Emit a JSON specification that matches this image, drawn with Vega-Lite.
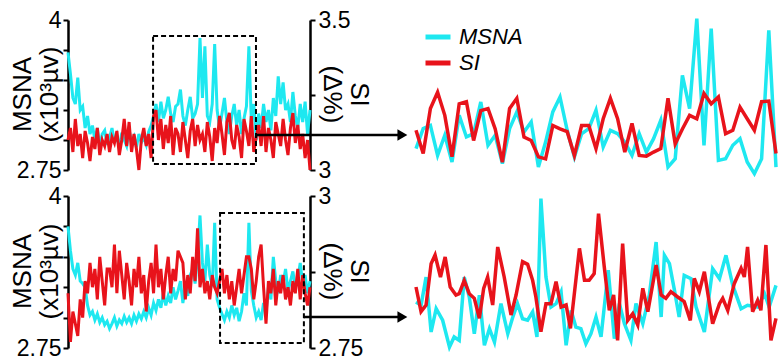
{
"$schema": "https://vega.github.io/schema/vega-lite/v6.json",
"background": "white",
"padding": {"left": 8, "top": 9, "right": 0, "bottom": 0},
"config": {
  "view": {"stroke": null},
  "font": "Liberation Sans",
  "axis": {"domainColor": "black", "domainWidth": 2.5, "tickColor": "black", "tickWidth": 2, "tickSize": 5, "labelFont": "Liberation Sans", "labelFontSize": 23, "labelColor": "black", "labelPadding": 2, "titleFont": "Liberation Sans", "titleFontSize": 26, "titleFontWeight": "normal", "titleColor": "black", "grid": false, "labelFlush": false, "labelOverlap": false}
},
"datasets": {
  "tl": [
{"t":0,"m":3.73,"s":3.10},{"t":1,"m":3.55,"s":3.14},{"t":2,"m":3.35,"s":3.06},{"t":3,"m":3.30,"s":3.17},{"t":4,"m":3.52,"s":3.08},{"t":5,"m":3.25,"s":3.12},{"t":6,"m":3.28,"s":3.04},{"t":7,"m":3.10,"s":3.13},{"t":8,"m":3.20,"s":3.09},{"t":9,"m":3.05,"s":3.03},
{"t":10,"m":3.12,"s":3.11},{"t":11,"m":3.00,"s":3.07},{"t":12,"m":3.10,"s":3.14},{"t":13,"m":2.95,"s":3.05},{"t":14,"m":3.05,"s":3.10},{"t":15,"m":3.08,"s":3.08},{"t":16,"m":2.96,"s":3.12},{"t":17,"m":3.02,"s":3.06},{"t":18,"m":3.10,"s":3.11},{"t":19,"m":2.98,"s":3.09},
{"t":20,"m":3.04,"s":3.13},{"t":21,"m":2.93,"s":3.05},{"t":22,"m":3.06,"s":3.10},{"t":23,"m":3.00,"s":3.17},{"t":24,"m":2.95,"s":3.08},{"t":25,"m":3.08,"s":3.16},{"t":26,"m":2.99,"s":3.06},{"t":27,"m":3.03,"s":3.12},{"t":28,"m":2.94,"s":3.07},{"t":29,"m":3.05,"s":3.00},
{"t":30,"m":2.98,"s":3.10},{"t":31,"m":3.02,"s":3.14},{"t":32,"m":2.96,"s":3.08},{"t":33,"m":3.07,"s":3.12},{"t":34,"m":3.12,"s":3.04},{"t":35,"m":3.20,"s":3.18},{"t":36,"m":3.30,"s":3.20},{"t":37,"m":3.15,"s":3.10},{"t":38,"m":3.32,"s":3.17},{"t":39,"m":3.18,"s":3.07},
{"t":40,"m":3.25,"s":3.15},{"t":41,"m":3.36,"s":3.09},{"t":42,"m":3.22,"s":3.18},{"t":43,"m":3.15,"s":3.05},{"t":44,"m":3.28,"s":3.14},{"t":45,"m":3.30,"s":3.12},{"t":46,"m":3.42,"s":3.06},{"t":47,"m":3.20,"s":3.16},{"t":48,"m":3.12,"s":3.10},{"t":49,"m":3.25,"s":3.04},
{"t":50,"m":3.36,"s":3.13},{"t":51,"m":3.18,"s":3.17},{"t":52,"m":3.22,"s":3.08},{"t":53,"m":3.30,"s":3.15},{"t":54,"m":3.85,"s":3.10},{"t":55,"m":3.35,"s":3.12},{"t":56,"m":3.78,"s":3.06},{"t":57,"m":3.20,"s":3.16},{"t":58,"m":3.15,"s":3.11},{"t":59,"m":3.30,"s":3.03},
{"t":60,"m":3.80,"s":3.14},{"t":61,"m":3.25,"s":3.09},{"t":62,"m":3.10,"s":3.18},{"t":63,"m":3.22,"s":3.12},{"t":64,"m":3.35,"s":3.05},{"t":65,"m":3.15,"s":3.16},{"t":66,"m":3.05,"s":3.19},{"t":67,"m":3.20,"s":3.10},{"t":68,"m":3.30,"s":3.07},{"t":69,"m":3.12,"s":3.15},
{"t":70,"m":3.25,"s":3.11},{"t":71,"m":3.05,"s":3.04},{"t":72,"m":3.18,"s":3.17},{"t":73,"m":3.28,"s":3.13},{"t":74,"m":3.78,"s":3.08},{"t":75,"m":3.15,"s":3.18},{"t":76,"m":3.30,"s":3.06},{"t":77,"m":3.00,"s":3.11},{"t":78,"m":3.22,"s":3.15},{"t":79,"m":3.10,"s":3.08},
{"t":80,"m":3.30,"s":3.18},{"t":81,"m":3.15,"s":3.06},{"t":82,"m":3.25,"s":3.14},{"t":83,"m":3.08,"s":3.10},{"t":84,"m":3.35,"s":3.04},{"t":85,"m":3.20,"s":3.16},{"t":86,"m":3.53,"s":3.12},{"t":87,"m":3.30,"s":3.08},{"t":88,"m":3.48,"s":3.17},{"t":89,"m":3.25,"s":3.10},
{"t":90,"m":3.30,"s":3.05},{"t":91,"m":3.15,"s":3.14},{"t":92,"m":3.40,"s":3.19},{"t":93,"m":3.20,"s":3.09},{"t":94,"m":3.10,"s":3.15},{"t":95,"m":3.30,"s":3.07},{"t":96,"m":3.15,"s":3.12},{"t":97,"m":3.32,"s":3.04},{"t":98,"m":3.05,"s":3.10},{"t":99,"m":3.25,"s":3.00}
  ],
  "bl": [
{"t":0,"m":3.75,"s":2.84},{"t":1,"m":3.55,"s":2.76},{"t":2,"m":3.40,"s":2.81},{"t":3,"m":3.35,"s":2.79},{"t":4,"m":3.45,"s":2.77},{"t":5,"m":3.30,"s":2.83},{"t":6,"m":3.28,"s":2.80},{"t":7,"m":3.25,"s":2.86},{"t":8,"m":3.10,"s":2.84},{"t":9,"m":3.02,"s":2.89},
{"t":10,"m":3.05,"s":2.85},{"t":11,"m":2.98,"s":2.88},{"t":12,"m":3.03,"s":2.83},{"t":13,"m":2.96,"s":2.90},{"t":14,"m":3.00,"s":2.86},{"t":15,"m":2.94,"s":2.82},{"t":16,"m":2.97,"s":2.88},{"t":17,"m":2.91,"s":2.88},{"t":18,"m":2.95,"s":2.85},{"t":19,"m":3.00,"s":2.92},
{"t":20,"m":2.93,"s":2.84},{"t":21,"m":2.98,"s":2.91},{"t":22,"m":2.95,"s":2.87},{"t":23,"m":3.01,"s":2.83},{"t":24,"m":2.96,"s":2.89},{"t":25,"m":3.00,"s":2.86},{"t":26,"m":2.95,"s":2.82},{"t":27,"m":3.02,"s":2.88},{"t":28,"m":2.97,"s":2.85},{"t":29,"m":3.03,"s":2.90},
{"t":30,"m":2.99,"s":2.84},{"t":31,"m":3.05,"s":2.87},{"t":32,"m":3.00,"s":2.81},{"t":33,"m":3.08,"s":2.86},{"t":34,"m":3.02,"s":2.89},{"t":35,"m":3.12,"s":2.84},{"t":36,"m":3.06,"s":2.92},{"t":37,"m":3.15,"s":2.85},{"t":38,"m":3.08,"s":2.88},{"t":39,"m":3.20,"s":2.83},
{"t":40,"m":3.10,"s":2.87},{"t":41,"m":3.18,"s":2.90},{"t":42,"m":3.12,"s":2.84},{"t":43,"m":3.25,"s":2.88},{"t":44,"m":3.15,"s":2.86},{"t":45,"m":3.22,"s":2.91},{"t":46,"m":3.30,"s":2.90},{"t":47,"m":3.12,"s":2.89},{"t":48,"m":3.25,"s":2.83},{"t":49,"m":3.18,"s":2.87},
{"t":50,"m":3.35,"s":2.84},{"t":51,"m":3.40,"s":2.90},{"t":52,"m":3.28,"s":2.86},{"t":53,"m":3.50,"s":2.947},{"t":54,"m":3.84,"s":2.85},{"t":55,"m":3.45,"s":2.88},{"t":56,"m":3.30,"s":2.84},{"t":57,"m":3.60,"s":2.86},{"t":58,"m":3.35,"s":2.83},{"t":59,"m":3.25,"s":2.87},
{"t":60,"m":3.78,"s":2.85},{"t":61,"m":3.15,"s":2.84},{"t":62,"m":3.08,"s":2.86},{"t":63,"m":3.03,"s":2.88},{"t":64,"m":2.98,"s":2.84},{"t":65,"m":3.05,"s":2.87},{"t":66,"m":3.00,"s":2.83},{"t":67,"m":3.10,"s":2.86},{"t":68,"m":3.02,"s":2.82},{"t":69,"m":3.08,"s":2.85},
{"t":70,"m":2.97,"s":2.88},{"t":71,"m":3.05,"s":2.84},{"t":72,"m":3.20,"s":2.87},{"t":73,"m":3.10,"s":2.90},{"t":74,"m":3.78,"s":2.90},{"t":75,"m":3.22,"s":2.88},{"t":76,"m":3.10,"s":2.83},{"t":77,"m":3.00,"s":2.86},{"t":78,"m":3.05,"s":2.90},{"t":79,"m":2.98,"s":2.92},
{"t":80,"m":3.12,"s":2.85},{"t":81,"m":3.04,"s":2.79},{"t":82,"m":3.25,"s":2.86},{"t":83,"m":3.15,"s":2.84},{"t":84,"m":3.50,"s":2.88},{"t":85,"m":3.30,"s":2.82},{"t":86,"m":3.20,"s":2.86},{"t":87,"m":3.35,"s":2.84},{"t":88,"m":3.28,"s":2.87},{"t":89,"m":3.40,"s":2.83},
{"t":90,"m":3.22,"s":2.85},{"t":91,"m":3.30,"s":2.82},{"t":92,"m":3.38,"s":2.86},{"t":93,"m":3.25,"s":2.84},{"t":94,"m":3.32,"s":2.88},{"t":95,"m":3.45,"s":2.83},{"t":96,"m":3.28,"s":2.87},{"t":97,"m":3.35,"s":2.84},{"t":98,"m":3.20,"s":2.82},{"t":99,"m":3.30,"s":2.85}
  ],
  "tr": [
{"t":0,"m":3.096,"s":3.076},{"t":1,"m":3.214,"s":3.042},{"t":2,"m":3.233,"s":3.108},{"t":3,"m":3.057,"s":3.132},{"t":4,"m":3.175,"s":3.098},{"t":5,"m":3.018,"s":3.037},{"t":6,"m":3.292,"s":3.115},{"t":7,"m":3.165,"s":3.118},{"t":8,"m":3.184,"s":3.061},{"t":9,"m":3.371,"s":3.105},
{"t":10,"m":3.116,"s":3.108},{"t":11,"m":3.175,"s":3.078},{"t":12,"m":3.008,"s":3.029},{"t":13,"m":3.214,"s":3.108},{"t":14,"m":3.312,"s":3.123},{"t":15,"m":3.194,"s":3.066},{"t":16,"m":3.253,"s":3.061},{"t":17,"m":2.988,"s":3.037},{"t":18,"m":3.135,"s":3.034},{"t":19,"m":3.312,"s":3.083},
{"t":20,"m":3.400,"s":3.078},{"t":21,"m":3.204,"s":3.074},{"t":22,"m":3.047,"s":3.039},{"t":23,"m":3.184,"s":3.083},{"t":24,"m":3.214,"s":3.083},{"t":25,"m":3.322,"s":3.049},{"t":26,"m":3.106,"s":3.093},{"t":27,"m":3.204,"s":3.123},{"t":28,"m":3.184,"s":3.093},{"t":29,"m":3.135,"s":3.044},
{"t":30,"m":3.057,"s":3.086},{"t":31,"m":3.184,"s":3.039},{"t":32,"m":3.076,"s":3.038},{"t":33,"m":3.155,"s":3.044},{"t":34,"m":3.263,"s":3.049},{"t":35,"m":2.988,"s":3.123},{"t":36,"m":3.037,"s":3.056},{"t":37,"m":3.527,"s":3.078},{"t":38,"m":3.331,"s":3.098},{"t":39,"m":3.861,"s":3.093},
{"t":40,"m":3.116,"s":3.130},{"t":41,"m":3.802,"s":3.115},{"t":42,"m":3.027,"s":3.125},{"t":43,"m":3.037,"s":3.071},{"t":44,"m":3.116,"s":3.076},{"t":45,"m":3.155,"s":3.110},{"t":46,"m":3.018,"s":3.093},{"t":47,"m":2.949,"s":3.076},{"t":48,"m":3.037,"s":3.118},{"t":49,"m":3.792,"s":3.119},
{"t":50,"m":2.988,"s":3.042}
  ],
  "brm": [
{"t":0,"m":3.223},{"t":1.4,"m":3.204},{"t":2.8,"m":3.370},{"t":4.2,"m":3.047},{"t":5.6,"m":3.184},{"t":7.4,"m":3.116},{"t":9.3,"m":2.959},{"t":10.6,"m":3.018},{"t":12.0,"m":2.998},{"t":13.4,"m":3.370},
{"t":14.8,"m":3.253},{"t":16.2,"m":3.037},{"t":17.6,"m":3.263},{"t":19.0,"m":2.969},{"t":20.4,"m":3.067},{"t":21.8,"m":2.988},{"t":23.6,"m":3.214},{"t":25.5,"m":3.037},{"t":26.9,"m":3.135},{"t":28.2,"m":3.214},
{"t":29.6,"m":3.125},{"t":31.0,"m":3.116},{"t":32.4,"m":3.165},{"t":33.6,"m":3.018},{"t":34.7,"m":3.831},{"t":36.1,"m":3.370},{"t":37.5,"m":3.194},{"t":38.9,"m":3.214},{"t":40.3,"m":3.282},{"t":41.7,"m":2.969},
{"t":43.1,"m":3.174},{"t":44.4,"m":3.076},{"t":45.8,"m":3.067},{"t":47.2,"m":2.978},{"t":48.6,"m":3.037},{"t":50.0,"m":3.135},{"t":51.4,"m":3.018},{"t":53.4,"m":3.410},{"t":55.1,"m":3.008},{"t":56.5,"m":3.214},
{"t":57.9,"m":3.096},{"t":59.7,"m":2.998},{"t":61.1,"m":3.214},{"t":63.0,"m":3.096},{"t":64.8,"m":3.263},{"t":66.7,"m":3.576},{"t":68.1,"m":3.135},{"t":69.0,"m":3.498},{"t":70.4,"m":3.449},{"t":71.8,"m":3.292},
{"t":73.1,"m":3.135},{"t":74.5,"m":3.380},{"t":76.4,"m":3.361},{"t":77.8,"m":3.194},{"t":80.1,"m":3.047},{"t":82.4,"m":3.419},{"t":84.3,"m":3.361},{"t":86.1,"m":3.498},{"t":88.0,"m":3.321},{"t":90.3,"m":3.184},
{"t":92.1,"m":3.204},{"t":94.9,"m":3.194},{"t":96.8,"m":3.272},{"t":98.1,"m":3.194},{"t":100,"m":3.321}
  ],
  "brs": [
{"t":0,"s":2.855},{"t":1.4,"s":2.818},{"t":2.8,"s":2.828},{"t":4.2,"s":2.890},{"t":5.3,"s":2.903},{"t":6.8,"s":2.870},{"t":8.1,"s":2.900},{"t":9.5,"s":2.855},{"t":11.1,"s":2.843},{"t":12.0,"s":2.845},
{"t":13.4,"s":2.865},{"t":14.8,"s":2.845},{"t":16.2,"s":2.838},{"t":17.6,"s":2.808},{"t":18.8,"s":2.853},{"t":19.9,"s":2.870},{"t":21.3,"s":2.828},{"t":22.7,"s":2.915},{"t":24.5,"s":2.870},{"t":26.4,"s":2.813},
{"t":27.8,"s":2.843},{"t":29.6,"s":2.893},{"t":31.0,"s":2.889},{"t":32.4,"s":2.865},{"t":33.3,"s":2.840},{"t":34.7,"s":2.788},{"t":36.1,"s":2.830},{"t":37.5,"s":2.830},{"t":38.9,"s":2.863},{"t":40.3,"s":2.825},
{"t":41.7,"s":2.828},{"t":42.9,"s":2.793},{"t":45.4,"s":2.913},{"t":46.8,"s":2.865},{"t":48.1,"s":2.865},{"t":49.5,"s":2.875},{"t":50.7,"s":2.965},{"t":52.3,"s":2.885},{"t":53.7,"s":2.820},{"t":54.9,"s":2.843},
{"t":56.0,"s":2.775},{"t":57.4,"s":2.920},{"t":58.8,"s":2.805},{"t":60.2,"s":2.815},{"t":61.6,"s":2.798},{"t":63.0,"s":2.853},{"t":64.4,"s":2.818},{"t":66.7,"s":2.888},{"t":68.1,"s":2.843},{"t":69.4,"s":2.838},
{"t":70.8,"s":2.848},{"t":72.7,"s":2.840},{"t":74.5,"s":2.833},{"t":76.2,"s":2.805},{"t":77.3,"s":2.868},{"t":78.7,"s":2.848},{"t":80.1,"s":2.878},{"t":82.4,"s":2.800},{"t":84.3,"s":2.830},{"t":85.2,"s":2.838},
{"t":86.6,"s":2.820},{"t":88.4,"s":2.860},{"t":90.3,"s":2.883},{"t":91.2,"s":2.870},{"t":92.1,"s":2.915},{"t":93.5,"s":2.818},{"t":94.9,"s":2.835},{"t":95.8,"s":2.820},{"t":97.2,"s":2.918},{"t":98.6,"s":2.775},
{"t":100,"s":2.808}
  ],
  "boxes": [
{"panel":"top","start":34.8,"end":76.9,"lo":2.80,"hi":3.867},
{"panel":"bottom","start":62.2,"end":96.5,"lo":2.791,"hi":3.86}
  ],
  "arrows": [
{"panel":"top","from":76.9,"to":136.8,"level":3.042},
{"panel":"bottom","from":96.5,"to":136.8,"level":3.005}
  ]
},
"columns": 2,
"align": "each",
"bounds": "flush",
"spacing": {"row": 26, "column": 106},
"resolve": {"legend": {"color": "independent"}},
"concat": [
  {
    "width": 242, "height": 150,
    "layer": [
      {"data": {"name": "tl"}, "mark": {"type": "line", "strokeWidth": 3},
       "encoding": {
         "x": {"field": "t", "type": "quantitative", "scale": {"domain": [0, 99], "nice": false, "zero": false}, "axis": {"values": [0, 9.9, 19.8, 29.7, 39.6, 49.5, 59.4, 69.3, 79.2, 89.1, 99], "labels": false, "title": null}},
         "y": {"field": "m", "type": "quantitative", "scale": {"domain": [2.75, 4], "nice": false, "zero": false}, "axis": {"values": [2.75, 3, 3.25, 3.5, 3.75, 4], "labelExpr": "datum.value == 4 ? '4' : (datum.value == 2.75 ? '2.75' : '')", "title": ["MSNA", "(x10³µv)"], "titleAngle": -90, "titleAlign": "center", "titleBaseline": "alphabetic", "titleX": -38, "titleY": 74, "titleLineHeight": 27}},
         "color": {"datum": "MSNA", "type": "nominal", "scale": {"domain": ["MSNA", "SI"], "range": ["#1ee8f0", "#e8131b"]}, "legend": null}
       }},
      {"data": {"name": "tl"}, "mark": {"type": "line", "strokeWidth": 3},
       "encoding": {
         "x": {"field": "t", "type": "quantitative", "scale": {"domain": [0, 99], "nice": false, "zero": false}, "axis": null},
         "y": {"field": "s", "type": "quantitative", "scale": {"domain": [3, 3.5], "nice": false, "zero": false}, "axis": {"orient": "right", "values": [3, 3.25, 3.5], "labelExpr": "datum.value == 3.5 ? '3.5' : (datum.value == 3 ? '3' : '')", "labelPadding": 3, "title": ["SI", "(Δ%)"], "titleAngle": 90, "titleAlign": "center", "titleBaseline": "alphabetic", "titleX": 40, "titleY": 74, "titleLineHeight": 27}},
         "color": {"datum": "SI", "type": "nominal", "legend": null}
       }},
      {"data": {"name": "boxes"},
       "transform": [{"filter": "datum.panel == 'top'"}],
       "layer": [
         {"mark": {"type": "rect", "fill": null, "stroke": "black", "strokeWidth": 2, "strokeDash": [5, 3]},
          "encoding": {
            "x": {"field": "start", "type": "quantitative", "scale": {"domain": [0, 99], "nice": false, "zero": false}, "axis": null},
            "x2": {"field": "end"},
            "y": {"field": "lo", "type": "quantitative", "scale": {"domain": [2.75, 4], "nice": false, "zero": false}, "axis": null},
            "y2": {"field": "hi"}
          }}
       ]},
      {"data": {"name": "arrows"},
       "transform": [{"filter": "datum.panel == 'top'"}],
       "layer": [
         {"mark": {"type": "rule", "stroke": "black", "strokeWidth": 2.5},
          "encoding": {
            "x": {"field": "from", "type": "quantitative", "scale": {"domain": [0, 99], "nice": false, "zero": false}, "axis": null},
            "x2": {"field": "to"},
            "y": {"field": "level", "type": "quantitative", "scale": {"domain": [2.75, 4], "nice": false, "zero": false}, "axis": null}
          }},
         {"mark": {"type": "point", "shape": "triangle-right", "filled": true, "color": "black", "opacity": 1, "size": 130},
          "encoding": {
            "x": {"field": "to", "type": "quantitative", "scale": {"domain": [0, 99], "nice": false, "zero": false}, "axis": null},
            "y": {"field": "level", "type": "quantitative", "scale": {"domain": [2.75, 4], "nice": false, "zero": false}, "axis": null}
          }}
       ]}
    ],
    "resolve": {"scale": {"y": "independent"}}
  },
  {
    "width": 360, "height": 150,
    "layer": [
      {"data": {"name": "tr"}, "mark": {"type": "line", "strokeWidth": 3.5},
       "encoding": {
         "x": {"field": "t", "type": "quantitative", "scale": {"domain": [0, 50], "nice": false, "zero": false}, "axis": null},
         "y": {"field": "m", "type": "quantitative", "scale": {"domain": [2.9706, 3.8529], "nice": false, "zero": false}, "axis": null},
         "color": {"datum": "MSNA", "type": "nominal", "legend": {"orient": "none", "legendX": 7, "legendY": 2, "title": null, "symbolType": "stroke", "symbolSize": 625, "symbolStrokeWidth": 5, "labelFont": "Liberation Sans", "labelFontSize": 22, "labelFontStyle": "italic", "labelColor": "black", "labelOffset": 6, "rowPadding": 0}}
       }},
      {"data": {"name": "tr"}, "mark": {"type": "line", "strokeWidth": 3.5},
       "encoding": {
         "x": {"field": "t", "type": "quantitative", "scale": {"domain": [0, 50], "nice": false, "zero": false}, "axis": null},
         "y": {"field": "s", "type": "quantitative", "scale": {"domain": [3.0176, 3.2382], "nice": false, "zero": false}, "axis": null},
         "color": {"datum": "SI", "type": "nominal"}
       }}
    ],
    "resolve": {"scale": {"y": "independent"}}
  },
  {
    "width": 242, "height": 152,
    "layer": [
      {"data": {"name": "bl"}, "mark": {"type": "line", "strokeWidth": 3},
       "encoding": {
         "x": {"field": "t", "type": "quantitative", "scale": {"domain": [0, 99], "nice": false, "zero": false}, "axis": {"values": [0, 9.9, 19.8, 29.7, 39.6, 49.5, 59.4, 69.3, 79.2, 89.1, 99], "labels": false, "title": null}},
         "y": {"field": "m", "type": "quantitative", "scale": {"domain": [2.75, 4], "nice": false, "zero": false}, "axis": {"values": [2.75, 3, 3.25, 3.5, 3.75, 4], "labelExpr": "datum.value == 4 ? '4' : (datum.value == 2.75 ? '2.75' : '')", "title": ["MSNA", "(x10³µv)"], "titleAngle": -90, "titleAlign": "center", "titleBaseline": "alphabetic", "titleX": -38, "titleY": 75, "titleLineHeight": 27}},
         "color": {"datum": "MSNA", "type": "nominal", "legend": null}
       }},
      {"data": {"name": "bl"}, "mark": {"type": "line", "strokeWidth": 3},
       "encoding": {
         "x": {"field": "t", "type": "quantitative", "scale": {"domain": [0, 99], "nice": false, "zero": false}, "axis": null},
         "y": {"field": "s", "type": "quantitative", "scale": {"domain": [2.75, 3], "nice": false, "zero": false}, "axis": {"orient": "right", "values": [2.75, 2.875, 3], "labelExpr": "datum.value == 3 ? '3' : (datum.value == 2.75 ? '2.75' : '')", "labelPadding": 3, "title": ["SI", "(Δ%)"], "titleAngle": 90, "titleAlign": "center", "titleBaseline": "alphabetic", "titleX": 40, "titleY": 75, "titleLineHeight": 27}},
         "color": {"datum": "SI", "type": "nominal", "legend": null}
       }},
      {"data": {"name": "boxes"},
       "transform": [{"filter": "datum.panel == 'bottom'"}],
       "layer": [
         {"mark": {"type": "rect", "fill": null, "stroke": "black", "strokeWidth": 2, "strokeDash": [5, 3]},
          "encoding": {
            "x": {"field": "start", "type": "quantitative", "scale": {"domain": [0, 99], "nice": false, "zero": false}, "axis": null},
            "x2": {"field": "end"},
            "y": {"field": "lo", "type": "quantitative", "scale": {"domain": [2.75, 4], "nice": false, "zero": false}, "axis": null},
            "y2": {"field": "hi"}
          }}
       ]},
      {"data": {"name": "arrows"},
       "transform": [{"filter": "datum.panel == 'bottom'"}],
       "layer": [
         {"mark": {"type": "rule", "stroke": "black", "strokeWidth": 2.5},
          "encoding": {
            "x": {"field": "from", "type": "quantitative", "scale": {"domain": [0, 99], "nice": false, "zero": false}, "axis": null},
            "x2": {"field": "to"},
            "y": {"field": "level", "type": "quantitative", "scale": {"domain": [2.75, 4], "nice": false, "zero": false}, "axis": null}
          }},
         {"mark": {"type": "point", "shape": "triangle-right", "filled": true, "color": "black", "opacity": 1, "size": 130},
          "encoding": {
            "x": {"field": "to", "type": "quantitative", "scale": {"domain": [0, 99], "nice": false, "zero": false}, "axis": null},
            "y": {"field": "level", "type": "quantitative", "scale": {"domain": [2.75, 4], "nice": false, "zero": false}, "axis": null}
          }}
       ]}
    ],
    "resolve": {"scale": {"y": "independent"}}
  },
  {
    "width": 360, "height": 152,
    "layer": [
      {"data": {"name": "brm"}, "mark": {"type": "line", "strokeWidth": 3.5},
       "encoding": {
         "x": {"field": "t", "type": "quantitative", "scale": {"domain": [0, 100], "nice": false, "zero": false}, "axis": null},
         "y": {"field": "m", "type": "quantitative", "scale": {"domain": [2.9529, 3.8467], "nice": false, "zero": false}, "axis": null},
         "color": {"datum": "MSNA", "type": "nominal", "legend": null}
       }},
      {"data": {"name": "brs"}, "mark": {"type": "line", "strokeWidth": 3.5},
       "encoding": {
         "x": {"field": "t", "type": "quantitative", "scale": {"domain": [0, 100], "nice": false, "zero": false}, "axis": null},
         "y": {"field": "s", "type": "quantitative", "scale": {"domain": [2.7635, 2.9915], "nice": false, "zero": false}, "axis": null},
         "color": {"datum": "SI", "type": "nominal", "legend": null}
       }}
    ],
    "resolve": {"scale": {"y": "independent"}}
  }
]
}
